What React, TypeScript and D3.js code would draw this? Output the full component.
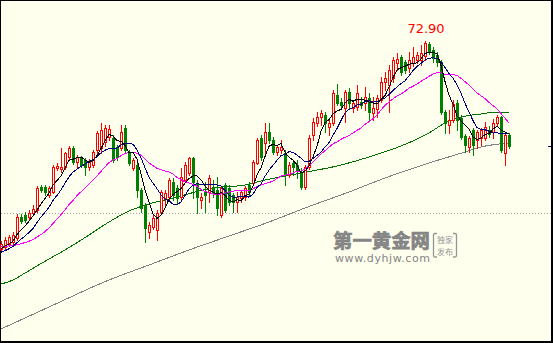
import React from 'react';
import * as d3 from 'd3';

// daily bars, oldest first
const opens = [
  64.58, 64.66, 64.78, 64.86, 65.02, 65.86, 65.94, 65.86, 66.02, 66.14,
  67.06, 67.06, 66.74, 66.86, 67.82, 67.78, 67.86, 68.26, 68.62, 68.06,
  68.22, 68.14, 67.86, 67.94, 68.54, 68.62, 68.86, 69.06, 69.02, 68.66,
  68.62, 69.42, 68.46, 67.82, 67.94, 66.94, 66.34, 65.26, 65.46, 65.34,
  66.06, 66.62, 66.66, 67.26, 67.02, 66.66, 67.34, 67.62, 68.22, 67.22,
  66.54, 66.86, 66.86, 67.06, 66.94, 65.94, 67.14, 67.02, 66.74, 66.46,
  66.62, 66.66, 67.14, 67.22, 68.02, 69.02, 68.82, 69.26, 68.94, 68.46,
  68.54, 68.42, 67.54, 68.02, 67.94, 67.66, 67.06, 67.86, 69.14, 69.62,
  69.86, 69.94, 69.46, 69.62, 70.74, 70.46, 70.22, 70.86, 70.22, 70.26,
  70.46, 70.42, 70.62, 70.02, 70.18, 70.54, 71.26, 71.14, 71.42, 72.02,
  72.26, 72.06, 71.82, 72.02, 72.14, 72.14, 72.30, 72.78, 72.54, 72.34,
  72.06, 70.06, 69.54, 69.74, 70.42, 69.82, 69.10, 68.66, 69.34, 68.94,
  69.02, 69.02, 69.34, 69.26, 69.62, 69.86, 68.42, 69.14,
];
const highs = [
  64.90, 65.06, 65.14, 65.26, 65.98, 65.98, 66.06, 66.14, 66.34, 67.10,
  67.14, 67.14, 67.10, 67.94, 68.02, 68.62, 68.46, 68.70, 68.70, 68.34,
  68.30, 68.22, 68.18, 68.54, 69.30, 69.62, 69.54, 69.54, 69.14, 68.74,
  69.54, 69.54, 68.54, 68.22, 68.02, 67.02, 66.42, 65.66, 65.98, 66.14,
  66.94, 66.94, 67.42, 67.42, 67.14, 67.82, 68.06, 68.26, 68.26, 67.34,
  66.82, 67.26, 67.54, 67.34, 67.46, 67.06, 67.22, 67.14, 66.82, 66.86,
  66.94, 67.10, 67.26, 68.14, 69.02, 69.14, 69.62, 69.62, 69.06, 68.74,
  68.94, 68.54, 68.06, 68.14, 68.14, 67.82, 67.94, 69.14, 69.82, 70.06,
  70.14, 70.06, 69.82, 70.94, 71.18, 70.62, 70.94, 71.02, 70.54, 71.14,
  70.66, 71.06, 70.82, 70.66, 70.74, 71.46, 71.66, 71.94, 72.26, 72.42,
  72.34, 72.14, 72.46, 72.66, 72.46, 72.74, 72.90, 72.86, 72.66, 72.46,
  72.14, 70.14, 70.14, 70.54, 70.54, 69.94, 69.18, 69.10, 69.42, 69.34,
  69.42, 69.66, 69.50, 69.78, 69.94, 69.90, 69.22, 69.22,
];
const lows = [
  64.54, 64.58, 64.70, 64.78, 64.94, 65.62, 65.66, 65.78, 65.94, 66.06,
  66.86, 66.74, 66.66, 66.82, 67.74, 67.66, 67.78, 68.18, 67.98, 67.86,
  67.86, 67.54, 67.74, 67.86, 68.34, 68.42, 68.70, 68.94, 68.06, 68.14,
  68.54, 68.46, 67.94, 67.74, 66.66, 66.06, 64.86, 65.02, 65.38, 64.94,
  65.98, 66.34, 66.58, 66.54, 66.42, 66.54, 67.26, 67.54, 66.62, 66.02,
  66.22, 66.06, 66.46, 66.66, 65.94, 65.86, 66.06, 66.34, 66.06, 66.06,
  66.46, 66.54, 66.74, 67.14, 67.98, 68.14, 68.42, 68.82, 68.38, 68.34,
  68.42, 67.14, 67.46, 67.54, 67.42, 66.98, 66.98, 67.78, 68.94, 69.50,
  69.54, 69.26, 69.14, 69.54, 70.34, 70.22, 69.66, 70.22, 70.06, 70.14,
  70.22, 70.14, 69.74, 69.74, 69.86, 70.46, 70.94, 70.06, 71.26, 71.74,
  71.54, 71.62, 71.66, 71.90, 72.02, 71.94, 72.14, 72.38, 72.06, 71.90,
  69.98, 69.22, 69.22, 69.66, 69.34, 68.98, 68.46, 68.46, 68.34, 68.62,
  68.74, 68.94, 69.06, 69.02, 69.54, 68.46, 67.94, 68.62,
];
const closes = [
  64.78, 64.94, 65.06, 65.14, 65.86, 65.70, 65.74, 66.02, 66.18, 67.02,
  66.94, 66.86, 67.02, 67.86, 67.90, 67.86, 68.42, 68.62, 68.06, 68.26,
  67.94, 67.86, 68.10, 68.46, 69.22, 69.34, 69.42, 69.38, 68.14, 68.26,
  69.26, 68.54, 68.02, 68.14, 66.94, 66.22, 65.42, 65.54, 65.82, 66.02,
  66.86, 66.82, 67.34, 66.74, 66.62, 67.46, 67.94, 68.22, 67.26, 66.66,
  66.66, 66.74, 67.42, 66.82, 66.22, 67.02, 66.14, 66.46, 66.46, 66.66,
  66.86, 67.02, 66.86, 68.06, 68.94, 68.26, 69.26, 68.94, 68.46, 68.66,
  68.66, 67.54, 67.94, 67.86, 67.74, 67.06, 67.86, 69.02, 69.66, 69.86,
  70.02, 69.62, 69.62, 70.82, 70.42, 70.34, 70.86, 70.42, 70.42, 70.82,
  70.34, 70.66, 70.06, 70.22, 70.62, 71.26, 71.42, 71.74, 72.14, 72.18,
  71.66, 71.74, 72.14, 72.26, 72.34, 72.42, 72.82, 72.46, 72.22, 72.06,
  70.06, 69.62, 69.74, 70.38, 69.74, 69.06, 68.74, 69.02, 68.74, 69.26,
  69.34, 69.46, 69.18, 69.62, 69.86, 68.54, 69.14, 68.70,
];
// closes before the first shown bar (estimated from where MA5/10/20 start)
const priorCloses = [
  65.02, 64.86, 64.94, 65.10, 64.90, 64.78, 64.98, 64.82, 64.94, 65.06,
  64.38, 64.22, 64.26, 64.34, 64.30, 64.50, 64.58, 64.62, 64.54,
];
// long averages at a few bars
const ma60Bars = [0, 3, 6, 12, 16, 22, 27, 32, 37, 43, 53, 61, 65, 75, 84, 92, 100, 107, 111, 115, 120, 124, 127];
const ma60Values = [63.18, 63.34, 63.62, 64.18, 64.54, 65.14, 65.66, 66.10, 66.38, 66.62, 67.02, 67.14, 67.30, 67.62, 67.90, 68.26, 68.70, 69.22, 69.62, 69.86, 69.98, 70.06, 70.06];
const ma120Bars = [0, 12, 27, 37, 47, 57, 67, 76, 87, 96, 107, 116, 120, 127];
const ma120Values = [61.38, 62.26, 63.34, 63.94, 64.54, 65.10, 65.66, 66.22, 66.86, 67.42, 68.02, 68.46, 68.66, 68.82];
const refPrice = 66.02;

const W = 553;
const H = 343;
const UP = '#ff0000';
const DOWN = '#008000';
const BG = '#ffffee';

function movingAverage(n: number) {
  const all = [...priorCloses, ...closes];
  const off = priorCloses.length;
  return closes.map((_, i) => d3.mean(all.slice(i + off - n + 1, i + off + 1)) as number);
}

export default function App() {
  const x = d3.scaleLinear().domain([0, closes.length - 1]).range([1, 509]);
  const y = d3.scaleLinear()
    .domain([d3.min(lows) as number, d3.max(highs) as number])
    .range([250, 41]);

  const maLine = d3.line<number>()
    .x((_, i) => x(i))
    .y(d => y(d));

  const sparseLine = d3.line<[number, number]>()
    .x(d => x(d[0]))
    .y(d => y(d[1]))
    .curve(d3.curveMonotoneX);

  const mas = [
    { n: 20, color: '#ff00ff' },
    { n: 10, color: '#000080' },
    { n: 5, color: '#000000' },
  ];

  const maxIdx = d3.maxIndex(highs);
  const maxHigh = highs[maxIdx];
  const last = closes[closes.length - 1];

  return (
    <svg width={W} height={H} style={{ position: 'absolute', left: 0, top: 0, display: 'block' }}>
      <rect x={0} y={0} width={W} height={H} fill="#000" />
      <rect x={1} y={1} width={W - 3} height={H - 3} fill={BG} />

      {/* reference level */}
      <line x1={1} x2={W - 2} y1={Math.round(y(refPrice)) + 0.5} y2={Math.round(y(refPrice)) + 0.5}
        stroke="#a0a0a0" strokeDasharray="1 2" shapeRendering="crispEdges" />

      {/* watermark */}
      <text x={333} y={248} fill="#858585" stroke="#858585" strokeWidth={0.7}
        fontFamily="'Noto Sans CJK SC', sans-serif" fontWeight="bold" fontSize={19}
        textLength={97} lengthAdjust="spacingAndGlyphs">第一黄金网</text>
      <text x={335} y={262} fill="#858585" fontFamily="'DejaVu Sans', sans-serif" fontSize={11}
        textLength={95} lengthAdjust="spacing">www.dyhjw.com</text>
      <g stroke="#959595" strokeWidth={1.3} fill="none">
        <path d="M437,233.5 H435 Q433.5,233.5 433.5,235 V255.5 Q433.5,257 435,257 H437" />
        <path d="M453,233.5 H455 Q456.5,233.5 456.5,235 V255.5 Q456.5,257 455,257 H453" />
      </g>
      <g fill="#959595" fontFamily="'Noto Sans CJK SC', sans-serif" fontSize={8} textAnchor="middle">
        <text x={445} y={243}>独家</text>
        <text x={445} y={255}>发布</text>
      </g>

      {/* long averages */}
      <path d={sparseLine(ma120Bars.map((b, i) => [b, ma120Values[i]] as [number, number])) || ''}
        fill="none" stroke="#808080" strokeWidth={1} shapeRendering="crispEdges" />
      <path d={sparseLine(ma60Bars.map((b, i) => [b, ma60Values[i]] as [number, number])) || ''}
        fill="none" stroke="#007000" strokeWidth={1} shapeRendering="crispEdges" />

      {/* candles */}
      <g shapeRendering="crispEdges">
        {closes.map((c, i) => {
          const o = opens[i];
          const cx = Math.round(x(i));
          const top = Math.round(y(Math.max(o, c)));
          const bot = Math.round(y(Math.min(o, c)));
          const hi = Math.round(y(highs[i]));
          const lo = Math.round(y(lows[i]));
          if (c >= o) {
            return (
              <g key={i} stroke={UP} fill="none">
                <line x1={cx + 0.5} x2={cx + 0.5} y1={hi} y2={top} />
                <line x1={cx + 0.5} x2={cx + 0.5} y1={bot + 1} y2={lo + 1} />
                <rect x={cx - 0.5} y={top + 0.5} width={2} height={Math.max(1, bot - top)} fill={BG} />
              </g>
            );
          }
          return (
            <g key={i}>
              <line x1={cx + 0.5} x2={cx + 0.5} y1={hi} y2={lo + 1} stroke={DOWN} />
              <rect x={cx - 1} y={top} width={3} height={Math.max(1, bot - top + 1)} fill={DOWN} />
            </g>
          );
        })}
      </g>

      {/* short averages */}
      {mas.map(m => (
        <path key={m.n} d={maLine(movingAverage(m.n)) || ''} fill="none" stroke={m.color}
          strokeWidth={1} shapeRendering="crispEdges" />
      ))}

      {/* high label and last price mark */}
      <text x={x(maxIdx) + 1} y={y(maxHigh) - 8} textAnchor="middle" fill="#ff0000"
        fontFamily="'DejaVu Sans', sans-serif" fontSize={13}>{d3.format('.2f')(maxHigh)}</text>
      <line x1={548} x2={551} y1={Math.round(y(last)) + 0.5} y2={Math.round(y(last)) + 0.5}
        stroke="#000080" shapeRendering="crispEdges" />
    </svg>
  );
}
